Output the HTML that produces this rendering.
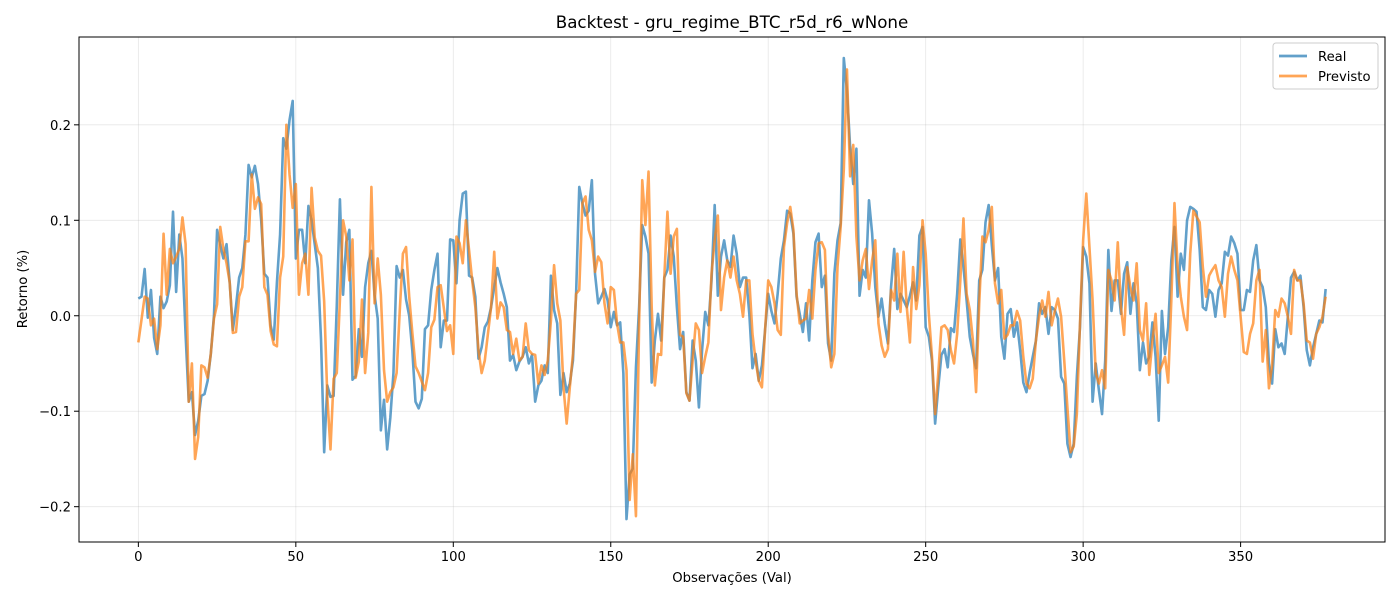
<!DOCTYPE html>
<html><head><meta charset="utf-8"><style>
body{margin:0;background:#fff;}
svg{display:block;font-family:"DejaVu Sans","Liberation Sans",sans-serif;}
</style></head><body>
<svg id="chart" width="1400" height="600" viewBox="0 0 1400 600" xmlns="http://www.w3.org/2000/svg">
<rect x="0" y="0" width="1400" height="600" fill="#fff"/>
<text x="732" y="28" text-anchor="middle" font-size="16.7" fill="#000">Backtest - gru_regime_BTC_r5d_r6_wNone</text>
<g id="grid"></g>
<g id="ticks"></g>
<g id="series"></g>
<rect x="79" y="37" width="1306" height="505" fill="none" stroke="#000" stroke-width="1"/>
<text x="732" y="582" text-anchor="middle" font-size="13.2">Observações (Val)</text>
<text transform="translate(27,289) rotate(-90)" text-anchor="middle" font-size="13.2">Retorno (%)</text>
<g>
<rect x="1273" y="43" width="105" height="46" rx="3" fill="#fff" fill-opacity="0.8" stroke="#ccc"/>
<line x1="1279" y1="56" x2="1307" y2="56" stroke="#1f77b4" stroke-opacity="0.7" stroke-width="2.8"/>
<text x="1318" y="61" font-size="13.2">Real</text>
<line x1="1279" y1="76" x2="1307" y2="76" stroke="#ff7f0e" stroke-opacity="0.7" stroke-width="2.8"/>
<text x="1318" y="81" font-size="13.2">Previsto</text>
</g>
</svg>
<script>
const realValues=[0.018,0.02,0.049,-0.002,0.027,-0.023,-0.04,0.02,0.008,0.015,0.032,0.109,0.025,0.085,0.06,-0.02,-0.09,-0.08,-0.125,-0.11,-0.084,-0.082,-0.068,-0.04,0.0,0.09,0.074,0.06,0.075,0.035,-0.015,0.01,0.04,0.05,0.085,0.158,0.145,0.157,0.138,0.1,0.044,0.04,-0.01,-0.025,0.035,0.085,0.186,0.175,0.205,0.225,
0.06,0.09,0.09,0.055,0.115,0.1,0.075,0.05,-0.025,-0.143,-0.073,-0.085,-0.084,0.01,0.122,0.022,0.077,0.09,-0.067,-0.063,-0.014,-0.043,0.03,0.055,0.068,0.022,-0.003,-0.12,-0.088,-0.14,-0.107,-0.06,0.052,0.04,0.048,0.017,0,-0.037,-0.09,-0.097,-0.087,-0.014,-0.01,0.027,0.048,0.065,-0.033,-0.005,-0.005,0.08,
0.079,0.034,0.1,0.128,0.13,0.042,0.04,0.02,-0.045,-0.033,-0.012,-0.006,0.009,0.03,0.05,0.035,0.023,0.009,-0.047,-0.041,-0.057,-0.048,-0.043,-0.033,-0.05,-0.041,-0.09,-0.073,-0.068,-0.052,-0.06,0.042,0.006,-0.008,-0.083,-0.06,-0.08,-0.071,-0.047,0.023,0.135,0.118,0.105,0.11,0.142,0.044,0.013,0.02,0.028,0.016,
-0.012,0.004,-0.01,-0.007,-0.06,-0.213,-0.166,-0.16,-0.054,0.009,0.095,0.083,0.065,-0.07,-0.026,0.002,-0.026,0.04,0.048,0.084,0.062,0.009,-0.035,-0.017,-0.08,-0.089,-0.026,-0.047,-0.096,-0.036,0.004,-0.01,0.037,0.116,0.021,0.062,0.079,0.058,0.051,0.084,0.065,0.03,0.04,0.04,0.002,-0.055,-0.04,-0.068,-0.052,-0.015,
0.023,0.005,-0.008,0.023,0.06,0.079,0.11,0.107,0.086,0.02,0.002,-0.017,0.013,-0.026,0.037,0.077,0.086,0.03,0.042,-0.029,-0.047,0.044,0.079,0.097,0.27,0.236,0.177,0.138,0.175,0.021,0.048,0.04,0.121,0.086,0.03,-0.001,0.018,-0.008,-0.029,0.03,0.07,0.007,0.023,0.016,0.009,0.021,0.035,0.016,0.084,0.093,
-0.012,-0.022,-0.047,-0.113,-0.075,-0.041,-0.035,-0.054,-0.013,-0.017,0.023,0.08,0.051,0.016,-0.022,-0.04,-0.055,0.037,0.048,0.098,0.116,0.074,0.037,0.05,-0.022,-0.045,0.002,0.007,-0.022,-0.007,-0.036,-0.07,-0.08,-0.06,-0.043,-0.026,0.013,0.002,0.009,-0.019,0.009,0.006,-0.003,-0.064,-0.071,-0.134,-0.148,-0.134,-0.064,-0.012,
0.072,0.062,0.034,-0.09,-0.05,-0.078,-0.103,-0.047,0.069,0.005,0.037,0.037,0.002,0.044,0.056,0.002,0.034,0.013,-0.057,-0.028,-0.05,-0.043,-0.007,-0.043,-0.11,0.005,-0.04,-0.012,0.058,0.093,0.02,0.065,0.048,0.1,0.114,0.112,0.109,0.069,0.009,0.006,0.027,0.023,-0.001,0.027,0.034,0.067,0.063,0.083,0.076,0.065,
0.006,0.006,0.027,0.025,0.058,0.074,0.037,0.03,0.009,-0.05,-0.071,-0.014,-0.033,-0.029,-0.04,-0.001,0.04,0.046,0.037,0.042,0.009,-0.036,-0.052,-0.033,-0.019,-0.005,-0.007,0.028];
const predValues=[-0.028,-0.004,0.02,0.018,-0.01,-0.003,-0.035,-0.01,0.086,0.022,0.07,0.055,0.062,0.07,0.103,0.075,-0.09,-0.05,-0.15,-0.127,-0.052,-0.054,-0.065,-0.04,-0.003,0.012,0.093,0.07,0.055,0.035,-0.018,-0.017,0.02,0.03,0.078,0.078,0.148,0.112,0.124,0.117,0.03,0.022,-0.016,-0.03,-0.032,0.04,0.062,0.2,0.148,0.113,
0.138,0.022,0.055,0.065,0.022,0.134,0.082,0.068,0.063,0.015,-0.085,-0.14,-0.066,-0.06,0.017,0.1,0.083,0.037,0.08,-0.065,-0.048,0.017,-0.06,-0.018,0.135,0.013,0.06,0.022,-0.057,-0.09,-0.08,-0.075,-0.06,0.005,0.065,0.072,0.02,-0.018,-0.053,-0.06,-0.069,-0.078,-0.06,-0.012,-0.004,0.03,0.032,0.008,-0.016,-0.01,
-0.04,0.083,0.076,0.055,0.1,0.069,0.037,0.009,-0.036,-0.06,-0.047,-0.019,0.009,0.067,-0.003,0.014,0.009,-0.015,-0.017,-0.04,-0.024,-0.047,-0.043,-0.008,-0.036,-0.04,-0.041,-0.071,-0.052,-0.062,-0.047,-0.005,0.053,0.013,-0.005,-0.075,-0.113,-0.075,-0.04,0.023,0.027,0.118,0.125,0.09,0.079,0.046,0.062,0.056,0.013,-0.008,
0.03,0.027,-0.008,-0.028,-0.028,-0.057,-0.193,-0.145,-0.21,-0.008,0.142,0.095,0.151,0.009,-0.073,-0.04,-0.041,0.04,0.109,0.044,0.083,0.091,-0.02,-0.022,-0.081,-0.089,-0.047,-0.008,-0.015,-0.06,-0.043,-0.028,0.044,0.079,0.105,0.006,0.04,0.058,0.04,0.062,0.037,0.023,-0.001,0.037,0.037,-0.019,-0.047,-0.068,-0.075,-0.015,
0.037,0.03,0.013,-0.015,-0.02,0.072,0.097,0.114,0.09,0.023,-0.008,-0.005,-0.003,0.027,-0.003,0.048,0.076,0.077,0.069,-0.019,-0.054,-0.04,0.051,0.093,0.153,0.258,0.146,0.179,0.083,0.037,0.058,0.07,0.028,0.058,0.079,-0.008,-0.031,-0.043,-0.035,0.027,0.016,0.065,0.004,0.067,0.009,-0.028,0.051,0.007,0.032,0.1,
0.065,0.002,-0.043,-0.103,-0.06,-0.012,-0.01,-0.015,-0.036,-0.05,-0.019,0.037,0.102,0.023,0.006,-0.026,-0.08,0.013,0.083,0.077,0.09,0.114,0.034,0.013,0.027,-0.024,-0.02,-0.01,-0.01,0.005,-0.005,-0.043,-0.071,-0.076,-0.066,-0.026,-0.001,0.016,-0.001,0.025,-0.01,0.005,0.018,-0.001,-0.047,-0.096,-0.143,-0.137,-0.103,-0.008,
0.079,0.128,0.072,0.016,-0.06,-0.071,-0.057,-0.076,0.048,0.037,0.016,0.077,0.009,-0.02,0.051,0.03,0.016,0.055,-0.015,-0.026,0.013,-0.062,-0.026,0.002,-0.06,-0.052,-0.043,-0.07,0.016,0.118,0.051,0.02,-0.001,-0.015,0.065,0.11,0.104,0.098,0.051,0.02,0.042,0.048,0.053,0.037,0.03,-0.001,0.044,0.062,0.048,0.037,
-0.001,-0.038,-0.04,-0.019,-0.008,0.037,0.048,-0.048,-0.015,-0.076,-0.052,0.006,-0.001,0.018,0.013,-0.001,-0.019,0.048,0.037,0.037,0.013,-0.026,-0.028,-0.045,-0.019,-0.012,-0.001,0.02];
const xTickValues=[0,50,100,150,200,250,300,350];
const yTickValues=[-0.2,-0.1,0.0,0.1,0.2];
const yTickLabels=["\u22120.2","\u22120.1","0.0","0.1","0.2"];

const L=79,R=1385,T=37,B=542;
const xmin=-18.85,xmax=395.85,ymin=-0.237,ymax=0.292;
const xs=v=>L+(v-xmin)/(xmax-xmin)*(R-L);
const ys=v=>B-(v-ymin)/(ymax-ymin)*(B-T);
const NS='http://www.w3.org/2000/svg';
function mk(tag,parent){const e=document.createElementNS(NS,tag);parent.appendChild(e);return e;}
const grid=document.getElementById('grid'),ticks=document.getElementById('ticks'),series=document.getElementById('series');
xTickValues.forEach(v=>{
  const x=xs(v);
  const g=mk('line',grid);
  
  
  g.setAttribute('x1',x);g.setAttribute('x2',x);g.setAttribute('y1',T);g.setAttribute('y2',B);
  g.setAttribute('stroke','#b0b0b0');g.setAttribute('stroke-opacity','0.3');g.setAttribute('stroke-width','0.8');
  const tk=mk('line',ticks);
  
  
  tk.setAttribute('x1',x);tk.setAttribute('x2',x);tk.setAttribute('y1',B);tk.setAttribute('y2',B+5);tk.setAttribute('stroke','#000');
  const t=mk('text',ticks);
  
  
  t.setAttribute('x',x);t.setAttribute('y',B+19);t.setAttribute('text-anchor','middle');t.setAttribute('font-size','13.2');
  t.textContent=String(v);
});
yTickValues.forEach((v,i)=>{
  const y=ys(v);
  const g=mk('line',grid);
  
  
  g.setAttribute('x1',L);g.setAttribute('x2',R);g.setAttribute('y1',y);g.setAttribute('y2',y);
  g.setAttribute('stroke','#b0b0b0');g.setAttribute('stroke-opacity','0.3');g.setAttribute('stroke-width','0.8');
  const tk=mk('line',ticks);
  
  
  tk.setAttribute('x1',L-5);tk.setAttribute('x2',L);tk.setAttribute('y1',y);tk.setAttribute('y2',y);tk.setAttribute('stroke','#000');
  const t=mk('text',ticks);
  
  
  t.setAttribute('x',L-8);t.setAttribute('y',y+5);t.setAttribute('text-anchor','end');t.setAttribute('font-size','13.2');
  t.textContent=yTickLabels[i];
});
function drawLine(vals,color,name){
  const p=mk('polyline',series);
  
  
  p.setAttribute('points',vals.map((v,i)=>xs(i).toFixed(2)+','+ys(v).toFixed(2)).join(' '));
  p.setAttribute('fill','none');p.setAttribute('stroke',color);p.setAttribute('stroke-opacity','0.7');
  p.setAttribute('stroke-width','2.6');p.setAttribute('stroke-linejoin','round');
}
drawLine(realValues,'#1f77b4','real-line');
drawLine(predValues,'#ff7f0e','previsto-line');
</script>
</body></html>
